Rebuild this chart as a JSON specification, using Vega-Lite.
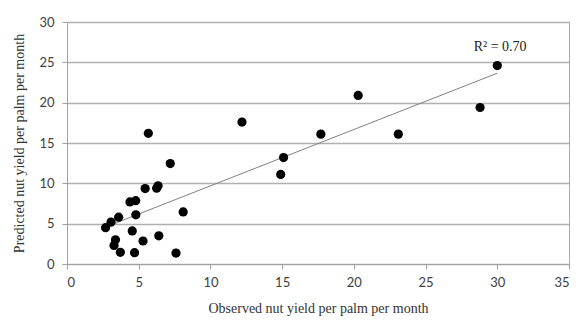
{
  "$schema": "https://vega.github.io/schema/vega-lite/v6.json",
  "width": 502,
  "height": 242,
  "autosize": "none",
  "padding": {"left": 67, "top": 22, "right": 17, "bottom": 68},
  "background": "white",
  "config": {
    "view": {"stroke": "#a8a8a8", "strokeWidth": 1},
    "axis": {
      "labelFont": "Lato",
      "labelFontSize": 13,
      "labelColor": "#404040",
      "titleFont": "Liberation Serif",
      "titleFontSize": 14,
      "titleFontWeight": "normal",
      "titleColor": "#333333",
      "domainColor": "#a0a0a0",
      "tickColor": "#a0a0a0",
      "gridColor": "#b0b0b0",
      "gridWidth": 1.5
    }
  },
  "data": {
    "values": [
      {"obs": 5.67, "pred": 16.2},
      {"obs": 12.2, "pred": 17.6},
      {"obs": 17.7, "pred": 16.1},
      {"obs": 15.1, "pred": 13.2},
      {"obs": 14.9, "pred": 11.1},
      {"obs": 7.2, "pred": 12.45},
      {"obs": 5.45, "pred": 9.35},
      {"obs": 6.25, "pred": 9.4},
      {"obs": 6.35, "pred": 9.7},
      {"obs": 4.39, "pred": 7.7},
      {"obs": 4.79, "pred": 7.85},
      {"obs": 4.8, "pred": 6.1},
      {"obs": 8.1, "pred": 6.45},
      {"obs": 3.6, "pred": 5.8},
      {"obs": 3.07, "pred": 5.2},
      {"obs": 2.69, "pred": 4.5},
      {"obs": 4.55, "pred": 4.1},
      {"obs": 6.4, "pred": 3.5},
      {"obs": 3.38, "pred": 3.0},
      {"obs": 3.28, "pred": 2.3},
      {"obs": 5.3, "pred": 2.85},
      {"obs": 3.72, "pred": 1.45},
      {"obs": 4.71, "pred": 1.4},
      {"obs": 7.6, "pred": 1.35},
      {"obs": 20.3, "pred": 20.9},
      {"obs": 23.1, "pred": 16.1},
      {"obs": 28.8, "pred": 19.4},
      {"obs": 30.0, "pred": 24.6}
    ]
  },
  "encoding": {
    "x": {
      "field": "obs",
      "type": "quantitative",
      "scale": {"domain": [0, 35], "nice": false},
      "axis": {
        "title": "Observed nut yield per palm per month",
        "values": [0, 5, 10, 15, 20, 25, 30, 35],
        "grid": false,
        "tickSize": 5,
        "labelPadding": 7,
        "titlePadding": 12
      }
    },
    "y": {
      "field": "pred",
      "type": "quantitative",
      "scale": {"domain": [0, 30], "nice": false},
      "axis": {
        "title": "Predicted nut yield per palm per month",
        "values": [0, 5, 10, 15, 20, 25, 30],
        "grid": true,
        "tickSize": 5,
        "labelPadding": 8,
        "titlePadding": 12
      }
    }
  },
  "layer": [
    {
      "transform": [{"regression": "pred", "on": "obs"}],
      "mark": {"type": "line", "color": "#808080", "strokeWidth": 1}
    },
    {
      "mark": {"type": "circle", "color": "black", "opacity": 1, "size": 85}
    },
    {
      "data": {"values": [{"obs": 30.2, "pred": 26.9, "label": "R² = 0.70"}]},
      "mark": {"type": "text", "font": "Liberation Serif", "fontSize": 14, "color": "#222222", "align": "center", "baseline": "middle"},
      "encoding": {"text": {"field": "label"}}
    }
  ]
}
